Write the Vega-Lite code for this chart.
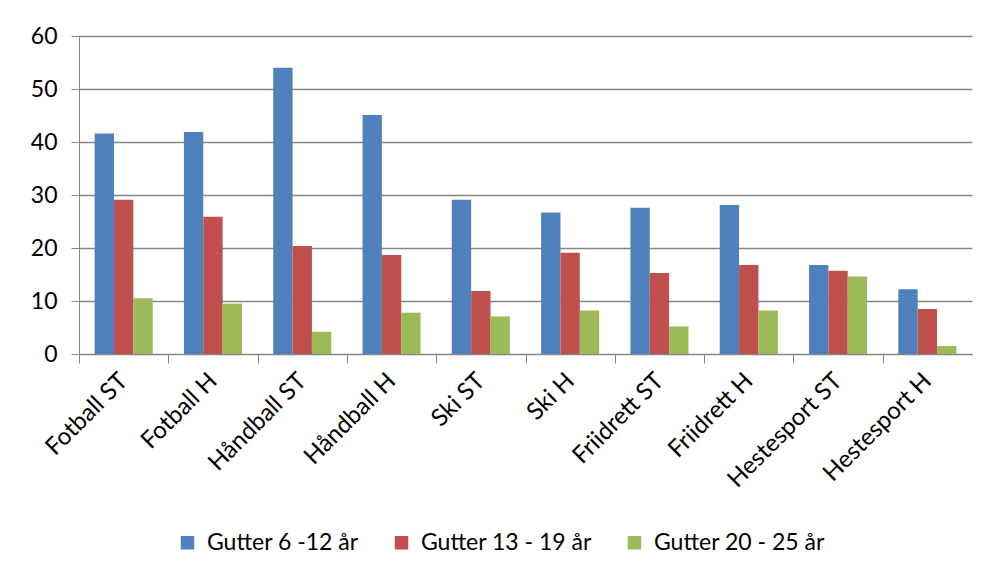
{
  "$schema": "https://vega.github.io/schema/vega-lite/v6.json",
  "width": 893,
  "height": 318,
  "autosize": {"type": "none"},
  "padding": {"left": 79, "top": 36, "right": 21, "bottom": 227},
  "background": "white",
  "config": {
    "view": {"stroke": null},
    "font": "Lato",
    "axis": {"labelFont": "Lato", "labelColor": "#000000", "domainColor": "#868686", "tickColor": "#868686", "gridColor": "#868686"}
  },
  "data": {
    "values": [
      {"kategori": "Fotball ST", "gruppe": "Gutter 6 -12 år", "verdi": 41.6},
      {"kategori": "Fotball ST", "gruppe": "Gutter 13 - 19 år", "verdi": 29.1},
      {"kategori": "Fotball ST", "gruppe": "Gutter 20 - 25 år", "verdi": 10.5},
      {"kategori": "Fotball H", "gruppe": "Gutter 6 -12 år", "verdi": 41.9},
      {"kategori": "Fotball H", "gruppe": "Gutter 13 - 19 år", "verdi": 25.9},
      {"kategori": "Fotball H", "gruppe": "Gutter 20 - 25 år", "verdi": 9.5},
      {"kategori": "Håndball ST", "gruppe": "Gutter 6 -12 år", "verdi": 54.0},
      {"kategori": "Håndball ST", "gruppe": "Gutter 13 - 19 år", "verdi": 20.4},
      {"kategori": "Håndball ST", "gruppe": "Gutter 20 - 25 år", "verdi": 4.2},
      {"kategori": "Håndball H", "gruppe": "Gutter 6 -12 år", "verdi": 45.1},
      {"kategori": "Håndball H", "gruppe": "Gutter 13 - 19 år", "verdi": 18.7},
      {"kategori": "Håndball H", "gruppe": "Gutter 20 - 25 år", "verdi": 7.8},
      {"kategori": "Ski ST", "gruppe": "Gutter 6 -12 år", "verdi": 29.1},
      {"kategori": "Ski ST", "gruppe": "Gutter 13 - 19 år", "verdi": 11.9},
      {"kategori": "Ski ST", "gruppe": "Gutter 20 - 25 år", "verdi": 7.1},
      {"kategori": "Ski H", "gruppe": "Gutter 6 -12 år", "verdi": 26.7},
      {"kategori": "Ski H", "gruppe": "Gutter 13 - 19 år", "verdi": 19.1},
      {"kategori": "Ski H", "gruppe": "Gutter 20 - 25 år", "verdi": 8.2},
      {"kategori": "Friidrett ST", "gruppe": "Gutter 6 -12 år", "verdi": 27.6},
      {"kategori": "Friidrett ST", "gruppe": "Gutter 13 - 19 år", "verdi": 15.3},
      {"kategori": "Friidrett ST", "gruppe": "Gutter 20 - 25 år", "verdi": 5.2},
      {"kategori": "Friidrett H", "gruppe": "Gutter 6 -12 år", "verdi": 28.1},
      {"kategori": "Friidrett H", "gruppe": "Gutter 13 - 19 år", "verdi": 16.8},
      {"kategori": "Friidrett H", "gruppe": "Gutter 20 - 25 år", "verdi": 8.2},
      {"kategori": "Hestesport ST", "gruppe": "Gutter 6 -12 år", "verdi": 16.8},
      {"kategori": "Hestesport ST", "gruppe": "Gutter 13 - 19 år", "verdi": 15.7},
      {"kategori": "Hestesport ST", "gruppe": "Gutter 20 - 25 år", "verdi": 14.6},
      {"kategori": "Hestesport H", "gruppe": "Gutter 6 -12 år", "verdi": 12.2},
      {"kategori": "Hestesport H", "gruppe": "Gutter 13 - 19 år", "verdi": 8.5},
      {"kategori": "Hestesport H", "gruppe": "Gutter 20 - 25 år", "verdi": 1.5}
    ]
  },
  "mark": {"type": "bar"},
  "encoding": {
    "x": {
      "field": "kategori",
      "type": "nominal",
      "sort": null,
      "scale": {"paddingInner": 0.35, "paddingOuter": 0.175},
      "axis": {
        "title": null,
        "tickOffset": -44.65,
        "labelOffset": 44.65,
        "labelAngle": -45,
        "labelAlign": "right",
        "labelBaseline": "middle",
        "labelPadding": 14,
        "labelFontSize": 24,
        "tickSize": 9,
        "domainColor": "#868686",
        "grid": false
      }
    },
    "xOffset": {
      "field": "gruppe",
      "type": "nominal",
      "sort": ["Gutter 6 -12 år", "Gutter 13 - 19 år", "Gutter 20 - 25 år"],
      "scale": {"paddingInner": 0, "paddingOuter": 0}
    },
    "y": {
      "field": "verdi",
      "type": "quantitative",
      "scale": {"domain": [0, 60], "nice": false},
      "axis": {
        "title": null,
        "values": [0, 10, 20, 30, 40, 50, 60],
        "tickSize": 8,
        "labelPadding": 14,
        "labelFontSize": 23,
        "grid": true,
        "gridWidth": 1.3
      }
    },
    "color": {
      "field": "gruppe",
      "type": "nominal",
      "scale": {
        "domain": ["Gutter 6 -12 år", "Gutter 13 - 19 år", "Gutter 20 - 25 år"],
        "range": ["#4F81BD", "#C0504D", "#9BBB59"]
      },
      "legend": {
        "title": null,
        "orient": "none",
        "direction": "horizontal",
        "legendX": 97,
        "legendY": 495,
        "symbolType": "square",
        "symbolSize": 182,
        "symbolStrokeWidth": 0,
        "labelFontSize": 23,
        "labelFont": "Lato",
        "labelColor": "#000000",
        "labelLimit": 400,
        "columnPadding": 31,
        "labelOffset": 8
      }
    }
  }
}
